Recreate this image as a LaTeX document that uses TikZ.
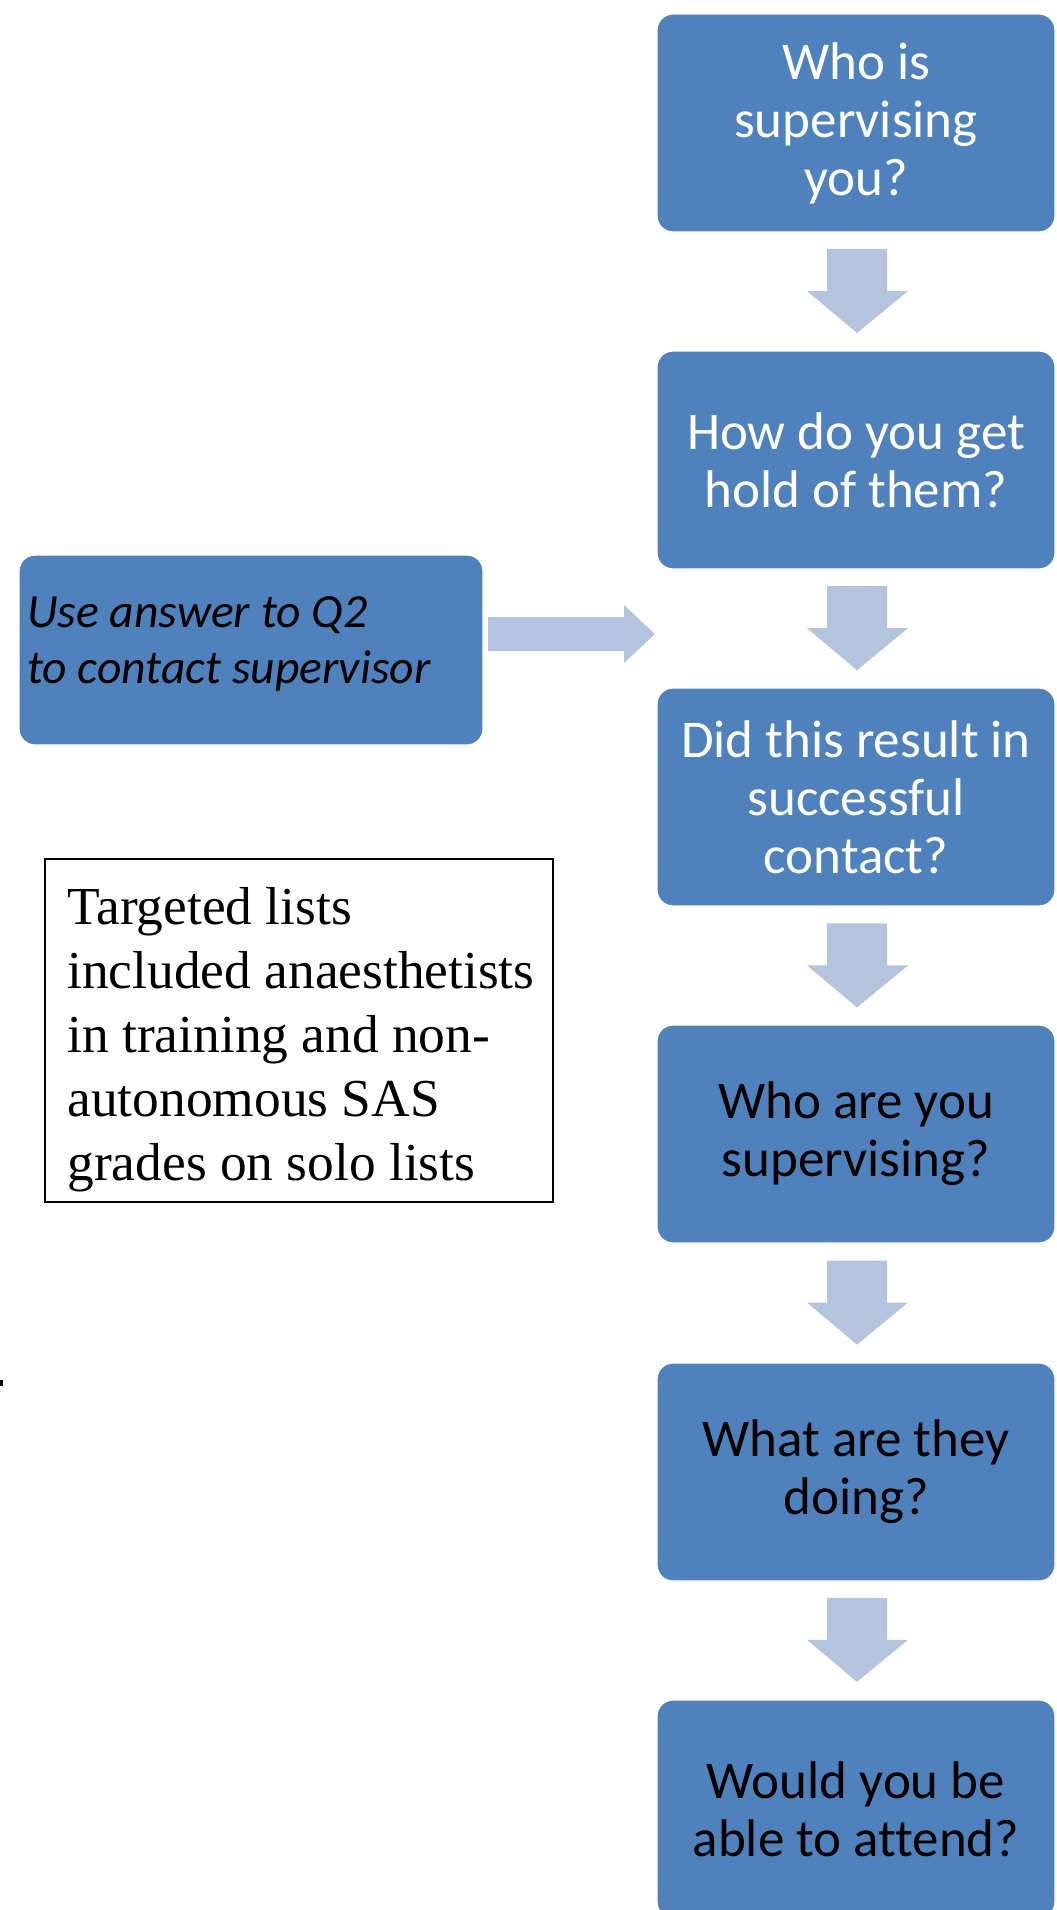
\documentclass[tikz,border=0pt]{standalone}
\usepackage{fontspec}
\setmainfont{Carlito}[Ligatures=NoCommon]
\newfontfamily\timesfont{Liberation Serif}
\definecolor{boxblue}{RGB}{79,129,189}
\definecolor{arrowblue}{RGB}{180,196,222}
\newcommand\tightspaces{\spaceskip 0.226em plus 0.05em minus 0.05em\relax}
\begin{document}
\begin{tikzpicture}[x=0.5pt,y=-0.5pt,
  qbox/.style={fill=boxblue, draw=white, line width=0.6pt, rounded corners=8pt,
    minimum width=199pt, minimum height=109pt, align=center,
    inner sep=0pt, font=\fontsize{26.5}{29}\selectfont\tightspaces},
  blockarrow/.style={fill=arrowblue, draw=none}]
\useasboundingbox (0,0) rectangle (1056,1910);
\clip (0,0) rectangle (1056,1910);

\node[qbox, text=white] (b1) at (856,123) {Who is\\supervising\\you?};
\node[qbox, text=white] (b2) at (856,460) {How do you get\\hold of them?};
\node[qbox, text=white] (b3) at (856,797) {Did this result in\\successful\\contact?};
\node[qbox, text=black] (b4) at (856,1134) {Who are you\\supervising?};
\node[qbox, text=black] (b5) at (856,1472) {What are they\\doing?};
\node[qbox, text=black] (b6) at (856,1809) {Would you be\\able to attend?};

% down block arrows between the boxes
\foreach \t in {249,586.2,923.4,1260.6,1597.8}{
  \fill[blockarrow] (827,\t) -- (887,\t) -- (887,\t+42) -- (908,\t+42)
    -- (857,\t+84) -- (807,\t+42) -- (827,\t+42) -- cycle;
}

% left box
\node[fill=boxblue, draw=white, line width=0.6pt, rounded corners=8pt,
  minimum width=232pt, minimum height=95pt, inner sep=0pt] (lb) at (251,650) {};
\node[anchor=north west, align=left, inner sep=0pt, text=black,
  font=\fontsize{23.8}{28}\selectfont\itshape\tightspaces]
  (lbt) at (27,596) {Use answer to Q2\\to contact supervisor};

% right block arrow
\coordinate (ra) at (488,634);
\fill[blockarrow] (ra) ++(0,-17) -- ++(136,0) -- ++(0,-12) -- (655,634)
  -- (624,663) -- (624,651) -- (488,651) -- cycle;

% note box
\node[draw=black, line width=0.7pt, minimum width=254pt, minimum height=171.5pt,
  inner sep=0pt] (tb) at (299,1030.5) {};
\node[anchor=north west, align=left, inner sep=0pt, text=black,
  font=\timesfont\fontsize{26.7}{32}\selectfont] (tbt) at (67,887)
  {Targeted lists\\included anaesthetists\\in training and non-\\autonomous SAS\\grades on solo lists};

% stray dot
\fill[black] (0,1380) rectangle (3,1386);
\end{tikzpicture}
\end{document}
